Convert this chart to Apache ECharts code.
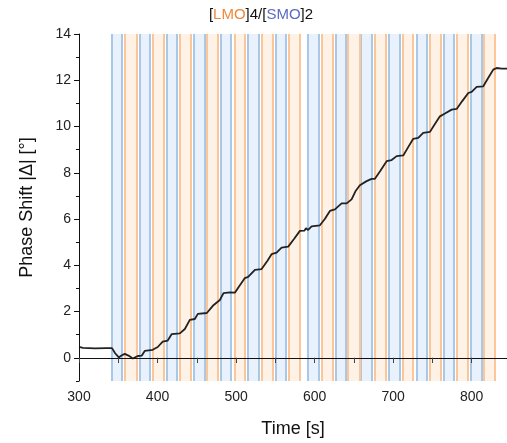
<!DOCTYPE html>
<html>
<head>
<meta charset="utf-8">
<script src="https://cdn.jsdelivr.net/npm/echarts@6/dist/echarts.min.js"></script>
<style>html,body{margin:0;padding:0;background:#fff}#c{width:507px;height:443px}</style>
</head>
<body>
<div id="c"></div>
<script>
// Measured curve (time [s], phase shift [deg])
var timeValues = [300,305,320,335,342,346,350.7,354,358.3,363,368.5,374.9,380,383.7,393.9,400.3,406.6,413,418.1,428.4,434.8,441.1,447.5,451.3,462.8,470.4,479.4,484,492.1,498.5,504,511.2,515.4,524,532.5,540,545.2,551.6,558,566.4,574,581.3,583.4,587,589,591.8,596.2,606.8,613,619.5,625.9,634.4,640.8,647.1,652,657.7,666.2,672.6,676.8,684,691.7,698.1,704.5,712.9,719,725.6,732,738.3,746.9,753,759.6,766,774.5,780.9,788,795.7,800,806.4,814.8,821,827.5,831.8,838,845];
var phaseValues = [0.47,0.43,0.41,0.42,0.42,0.2,0.02,0.1,0.17,0.1,-0.03,0.08,0.1,0.3,0.35,0.47,0.7,0.75,1.03,1.06,1.25,1.64,1.68,1.9,1.94,2.25,2.5,2.8,2.83,2.82,3.1,3.45,3.5,3.8,3.84,4.2,4.48,4.55,4.77,4.81,5.15,5.49,5.56,5.5,5.6,5.53,5.68,5.73,6.0,6.35,6.42,6.68,6.68,6.85,7.2,7.46,7.64,7.74,7.74,8.1,8.5,8.55,8.72,8.75,9.1,9.47,9.51,9.73,9.77,10.1,10.44,10.56,10.73,10.76,11.1,11.45,11.5,11.71,11.74,12.1,12.46,12.53,12.5,12.5];
// Deposition windows [start, end] in seconds
var smoBands = [[341.8,354.5],[377.5,390.2],[411.8,424.6],[446.2,460.3],[480.6,493.4],[515,529],[550.7,563.4],[591.5,605.5],[627.1,639.9],[659,673],[694.6,708.7],[730.3,743],[764.7,777.5],[799.1,813.1]];
var lmoBands = [[358.3,373.6],[394,408],[428.4,442.4],[462.8,476.8],[498.5,511.2],[532.9,547],[567.3,581.3],[609.3,623.3],[642.4,657.7],[676.8,690.8],[712.5,725.2],[746.9,760.9],[781.3,795.3],[815.6,829.7]];
// Tick values
var xLabelTicks = [300,400,500,600,700,800];
var xTicks = [300,350,400,450,500,550,600,650,700,750,800];
var yLabelTicks = [0,2,4,6,8,10,12,14];
var yMinorTicks = [-1,1,3,5,7,9,11,13];

var chart = echarts.init(document.getElementById('c'), null, {renderer:'canvas'});
var font = 'Liberation Sans, Arial, sans-serif';
var curve = timeValues.map(function(t,i){return [t, phaseValues[i]];});
function areas(list){ return list.map(function(b){return [{xAxis:b[0]},{xAxis:b[1]}];}); }
function edges(list){ var out=[]; list.forEach(function(b){ out.push({xAxis:b[0]}); out.push({xAxis:b[1]}); }); return out; }

chart.setOption({
  animation:false,
  title:{
    text:'[{o|LMO}]4/[{b|SMO}]2',
    left:256, top:2, textAlign:'center',
    textStyle:{fontFamily:font,fontSize:15,fontWeight:'normal',color:'#111',
      rich:{o:{color:'#f0883a',fontSize:15,fontFamily:font},b:{color:'#5a6cc0',fontSize:15,fontFamily:font}}}
  },
  grid:{left:79,right:0,top:34,bottom:61},
  xAxis:[{
    type:'value', min:300, max:845, interval:50, position:'bottom', z:10,
    name:'Time [s]', nameLocation:'middle', nameGap:39,
    nameTextStyle:{fontFamily:font,fontSize:18,color:'#111'},
    axisLine:{lineStyle:{color:'#111',width:1}},
    axisTick:{show:true,inside:false,length:5,customValues:xTicks,lineStyle:{color:'#111'}},
    axisLabel:{customValues:xLabelTicks,fontFamily:font,fontSize:14,color:'#222',margin:9},
    splitLine:{show:false}
  },{
    type:'value', min:300, max:845, interval:50, position:'top', z:10,
    axisLine:{lineStyle:{color:'#111',width:1}},
    axisTick:{show:true,inside:true,length:5,customValues:xTicks,lineStyle:{color:'#444'}},
    axisLabel:{show:false}, splitLine:{show:false}
  }],
  yAxis:[{
    type:'value', min:-1, max:14, interval:1, z:10,
    name:'Phase Shift |Δ| [°]', nameLocation:'middle', nameGap:43,
    nameTextStyle:{fontFamily:font,fontSize:18,color:'#111'},
    axisLine:{show:true,lineStyle:{color:'#111',width:1}},
    axisTick:{show:true,length:5,customValues:yLabelTicks,lineStyle:{color:'#111'}},
    axisLabel:{customValues:yLabelTicks,fontFamily:font,fontSize:14,color:'#222',margin:8},
    splitLine:{show:false}
  },{
    type:'value', min:-1, max:14, interval:1, position:'left', z:10,
    axisLine:{show:false},
    axisTick:{show:true,length:3,customValues:yMinorTicks,lineStyle:{color:'#111'}},
    axisLabel:{show:false}, splitLine:{show:false}
  }],
  series:[{
    type:'line', data:[], z:1, silent:true,
    markArea:{silent:true,itemStyle:{color:'#e9f2fc'},data:areas(smoBands)},
    markLine:{silent:true,symbol:['none','none'],label:{show:false},
      lineStyle:{color:'#a8c8e8',width:2,type:'solid'},data:edges(smoBands)}
  },{
    type:'line', data:[], z:1, silent:true,
    markArea:{silent:true,itemStyle:{color:'#fef1e5'},data:areas(lmoBands)},
    markLine:{silent:true,symbol:['none','none'],label:{show:false},
      lineStyle:{color:'#fdc699',width:2,type:'solid'},data:edges(lmoBands)}
  },{
    type:'line', data:curve, z:5, symbol:'none', smooth:false,
    lineStyle:{color:'#222',width:1.8}
  }]
});
</script>
</body>
</html>
